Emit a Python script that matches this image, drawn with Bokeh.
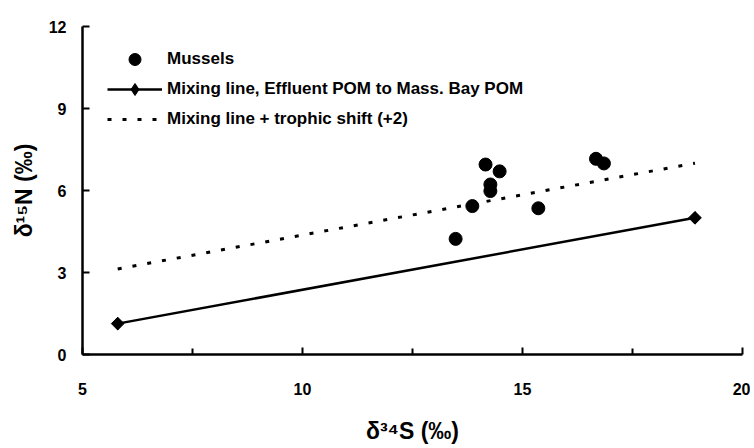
import numpy as np
from bokeh.plotting import figure
from bokeh.models import Range1d, FixedTicker, Legend, LegendItem
from bokeh.embed import file_html
from bokeh.resources import INLINE

# Data
mussel_s = [13.48, 13.86, 14.16, 14.27, 14.27, 14.48, 15.36, 16.67, 16.85]
mussel_n = [4.23, 5.43, 6.95, 6.22, 5.98, 6.70, 5.35, 7.16, 6.99]
mix_s = [5.8, 18.92]
mix_n = [1.13, 5.0]
shift_n = [3.13, 7.0]

x_major = [5, 10, 15, 20]
x_minor = [7.5, 12.5, 17.5]
y_major = [0, 3, 6, 9, 12]

FONT = "Liberation Sans"

W, H = 750, 446
p = figure(width=W, height=H, output_backend="svg", toolbar_location=None,
           x_range=Range1d(5, 20), y_range=Range1d(0, 12),
           min_border_left=82, min_border_right=W - 742, min_border_top=26,
           min_border_bottom=H - 354)
p.outline_line_color = None
p.grid.visible = False
p.background_fill_color = "white"
p.border_fill_color = "white"

r_mus = p.scatter(mussel_s, mussel_n, marker="circle", size=13, color="black")
r_mix = p.line(mix_s, mix_n, line_color="black", line_width=2.5)
r_mixpts = p.scatter(mix_s, mix_n, marker="square", angle=np.pi / 4, size=9, color="black")
r_mixleg = p.scatter(mix_s, mix_n, marker="diamond", size=12, color="black")
r_shift = p.line(mix_s, shift_n, line_color="black", line_width=3, line_dash="4 11")

for ax in (p.xaxis[0], p.yaxis[0]):
    ax.axis_line_width = 2.5
    ax.axis_line_color = "black"
    ax.major_tick_in = 7
    ax.major_tick_out = 0
    ax.major_tick_line_width = 2
    ax.minor_tick_in = 6
    ax.minor_tick_out = 0
    ax.minor_tick_line_width = 2
    ax.major_label_text_font = FONT
    ax.major_label_text_font_style = "bold"
    ax.major_label_text_font_size = "16px"
    ax.major_label_text_color = "black"
    ax.axis_label_text_font = FONT
    ax.axis_label_text_font_style = "bold"
    ax.axis_label_text_font_size = "23px"
    ax.axis_label_text_color = "black"

p.xaxis.ticker = FixedTicker(ticks=x_major, minor_ticks=x_minor)
p.yaxis.ticker = FixedTicker(ticks=y_major, minor_ticks=[])
p.xaxis.major_label_standoff = 28
p.yaxis.major_label_standoff = 16
p.xaxis.axis_label = "δ³⁴S (‰)"
p.yaxis.axis_label = "δ¹⁵N (‰)"
p.xaxis.axis_label_standoff = 20
p.yaxis.axis_label_standoff = 9

legend = Legend(items=[
    LegendItem(label="Mussels", renderers=[r_mus]),
    LegendItem(label="Mixing line, Effluent POM to Mass. Bay POM", renderers=[r_mix, r_mixleg]),
    LegendItem(label="Mixing line + trophic shift (+2)", renderers=[r_shift]),
], location=(25, 220))
legend.border_line_color = None
legend.background_fill_alpha = 0
legend.padding = 0
legend.margin = 0
legend.spacing = 0
legend.glyph_width = 55
legend.glyph_height = 30
legend.label_height = 30
legend.label_standoff = 5
legend.label_text_font = FONT
legend.label_text_font_style = "bold"
legend.label_text_font_size = "17px"
legend.label_text_color = "black"
p.add_layout(legend)

open("out.html", "w").write(file_html(p, INLINE))
